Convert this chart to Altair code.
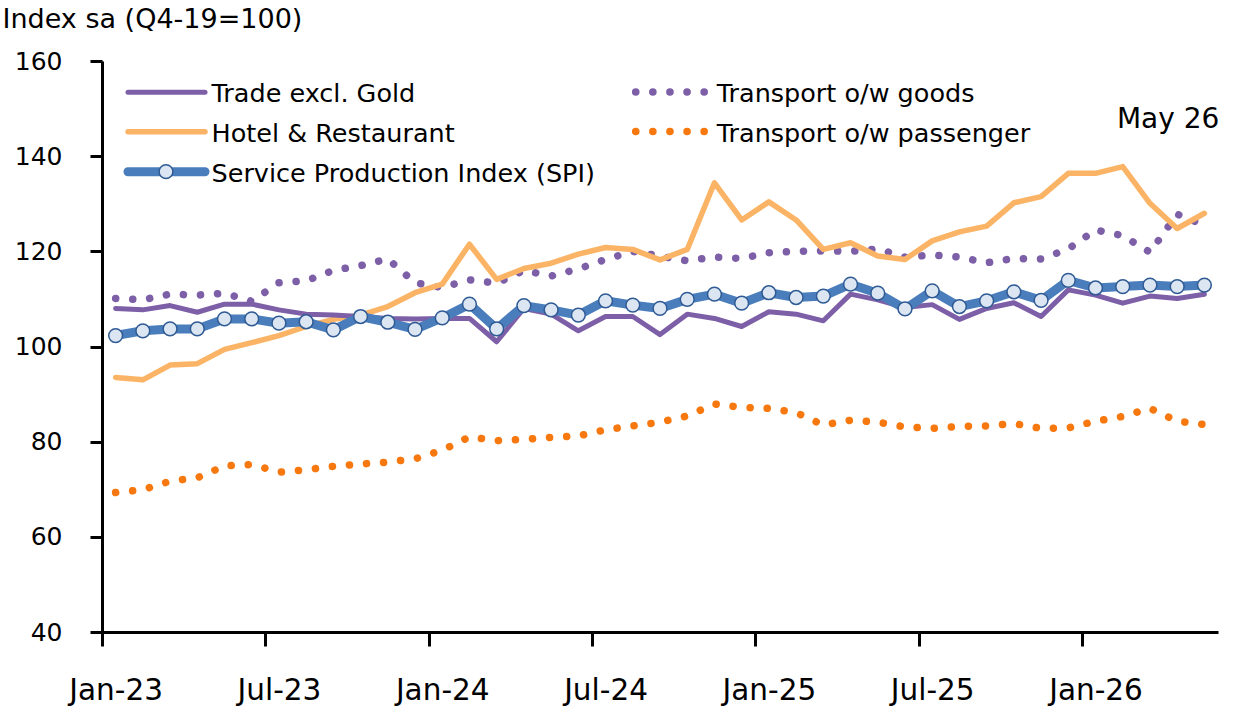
import json

import altair as alt
import pandas as pd

# Monthly index values, Jan-23 .. May-26 (seasonally adjusted, Q4-19 = 100)
MONTHS = pd.date_range("2023-01-01", periods=41, freq="MS").strftime("%b-%y").tolist()
TICK_LABELS = ["Jan-23", "Jul-23", "Jan-24", "Jul-24", "Jan-25", "Jul-25", "Jan-26"]

TRADE = [108.0, 107.7, 108.6, 107.2, 108.9, 108.9, 107.7, 106.8, 106.6, 106.3,
         105.9, 105.8, 105.9, 105.9, 101.0, 108.0, 106.8, 103.3, 106.3, 106.3,
         102.5, 106.8, 105.9, 104.2, 107.3, 106.8, 105.4, 111.0, 109.8, 108.2,
         108.8, 105.7, 108.0, 109.2, 106.3, 111.9, 110.8, 109.1, 110.6, 110.1, 111.0]
HOTEL = [93.5, 93.0, 96.1, 96.4, 99.4, 100.8, 102.3, 104.2, 105.7, 106.6,
         108.4, 111.3, 113.1, 121.5, 114.1, 116.4, 117.5, 119.4, 120.8, 120.4,
         118.2, 120.4, 134.4, 126.6, 130.4, 126.6, 120.4, 121.8, 119.0, 118.3,
         122.2, 124.1, 125.3, 130.2, 131.5, 136.4, 136.4, 137.8, 130.1, 124.8, 128.0]
SPI = [102.3, 103.3, 103.7, 103.7, 105.8, 105.8, 104.9, 105.2, 103.5, 106.3,
       105.1, 103.6, 106.0, 108.9, 103.7, 108.6, 107.7, 106.6, 109.6, 108.7,
       108.0, 109.9, 111.0, 109.1, 111.3, 110.3, 110.6, 113.1, 111.2, 107.9,
       111.7, 108.4, 109.6, 111.5, 109.7, 113.9, 112.3, 112.6, 112.9, 112.6, 112.9]
GOODS = [110.1, 109.8, 111.0, 110.8, 111.2, 109.5, 113.4, 113.8, 116.0, 117.0,
         118.4, 113.4, 112.4, 114.0, 113.3, 116.0, 114.8, 116.3, 118.3, 120.0,
         119.0, 118.0, 118.8, 118.5, 119.7, 120.0, 120.1, 120.0, 120.5, 118.8,
         119.2, 118.8, 117.6, 118.5, 118.4, 120.5, 124.5, 123.3, 119.8, 127.8, 125.5]
PASSENGER = [69.3, 69.9, 71.7, 72.4, 74.9, 75.2, 73.6, 74.1, 74.8, 75.3,
             75.7, 76.4, 78.2, 81.0, 80.2, 80.5, 80.9, 81.2, 82.5, 83.3,
             84.1, 85.4, 87.9, 87.2, 87.0, 86.1, 83.5, 84.5, 84.1, 83.1,
             82.8, 83.2, 83.3, 83.8, 82.8, 82.9, 84.3, 85.3, 87.0, 84.3, 83.6]

FONT = "DejaVu Sans"
W, H = 1116, 571          # plot area
LEFT, TOP = 102, 61       # plot origin inside the 1248x710 page

C_TRADE = "#7D5FA8"
C_HOTEL = "#FBB466"
C_SPI = "#4A7DBB"
C_SPI_EDGE = "#2F5A94"
C_SPI_FILL = "#DCE6F3"
C_GOODS = "#7D5FA8"
C_PASS = "#F7780F"
DOT_DASH = [0.1, 17]


def frame(values, name):
    return pd.DataFrame({"m": range(len(values)), "month": MONTHS,
                         "value": values, "series": name})


label_expr = json.dumps(TICK_LABELS).replace('"', "'") + "[round((datum.value + 0.5) / 6)]"

x_enc = alt.X(
    "m:Q",
    scale=alt.Scale(domain=[-0.5, len(MONTHS) - 0.5], nice=False, zero=False),
    axis=alt.Axis(
        values=[-0.5 + 6 * k for k in range(len(TICK_LABELS))],
        labelExpr=label_expr, labelOffset=W / len(MONTHS) / 2,
        labelFlush=False, labelOverlap=False,
        tickSize=14, tickWidth=3, tickColor="black",
        domainWidth=3, domainColor="black",
        labelFont=FONT, labelFontSize=29.5, labelColor="black",
        labelBaseline="alphabetic", labelPadding=53,
        grid=False, title=None,
    ),
)
y_enc = alt.Y(
    "value:Q",
    scale=alt.Scale(domain=[40, 160], nice=False, zero=False),
    axis=alt.Axis(
        values=list(range(40, 161, 20)),
        tickSize=12, tickWidth=3, tickColor="black",
        domainWidth=3, domainColor="black",
        labelFont=FONT, labelFontSize=25, labelColor="black", labelPadding=28,
        grid=False,
        title="Index sa (Q4-19=100)", titleAngle=0, titleAlign="left",
        titleBaseline="alphabetic", titleX=-LEFT + 2, titleY=27 - TOP,
        titleFont=FONT, titleFontSize=27, titleFontWeight="normal", titleColor="black",
    ),
)

goods = alt.Chart(frame(GOODS, "Transport o/w goods")).mark_line(
    color=C_GOODS, strokeWidth=7.5, strokeDash=DOT_DASH, strokeCap="round"
).encode(x=x_enc, y=y_enc)
passenger = alt.Chart(frame(PASSENGER, "Transport o/w passenger")).mark_line(
    color=C_PASS, strokeWidth=7.5, strokeDash=DOT_DASH, strokeCap="round"
).encode(x=x_enc, y=y_enc)
hotel = alt.Chart(frame(HOTEL, "Hotel & Restaurant")).mark_line(
    color=C_HOTEL, strokeWidth=5.5, strokeJoin="round", strokeCap="round"
).encode(x=x_enc, y=y_enc)
trade = alt.Chart(frame(TRADE, "Trade excl. Gold")).mark_line(
    color=C_TRADE, strokeWidth=5, strokeJoin="round", strokeCap="round"
).encode(x=x_enc, y=y_enc)
spi_df = frame(SPI, "Service Production Index (SPI)")
spi_line = alt.Chart(spi_df).mark_line(
    color=C_SPI, strokeWidth=9, strokeJoin="round", strokeCap="round"
).encode(x=x_enc, y=y_enc)
spi_pts = alt.Chart(spi_df).mark_point(
    shape="circle", filled=True, size=190, fill=C_SPI_FILL, fillOpacity=1,
    stroke=C_SPI_EDGE, strokeWidth=1.5, opacity=1
).encode(x=x_enc, y=y_enc)

# Legend, drawn in plot-area pixel coordinates
one = pd.DataFrame({"k": [0]})


def legend_entry(label, x0, x1, y_line, y_text, x_text, **line_style):
    rule = alt.Chart(one).mark_rule(**line_style).encode(
        x=alt.value(x0 - LEFT), x2=alt.value(x1 - LEFT), y=alt.value(y_line - TOP)
    )
    text = alt.Chart(one).mark_text(
        text=label, align="left", baseline="alphabetic", font=FONT,
        fontSize=25.5, color="black"
    ).encode(x=alt.value(x_text - LEFT), y=alt.value(y_text - TOP))
    return [rule, text]


legend_layers = []
legend_layers += legend_entry("Trade excl. Gold", 128, 205, 92.3, 102.3, 211.5,
                              color=C_TRADE, strokeWidth=5, strokeCap="round")
legend_layers += legend_entry("Hotel & Restaurant", 128, 205, 131.7, 141.7, 211.5,
                              color=C_HOTEL, strokeWidth=5.5, strokeCap="round")
legend_layers += legend_entry("Service Production Index (SPI)", 128, 205, 171.7, 181.7, 211.5,
                              color=C_SPI, strokeWidth=9, strokeCap="round")
legend_layers.append(
    alt.Chart(one).mark_point(
        shape="circle", filled=True, size=190, fill=C_SPI_FILL, fillOpacity=1,
        stroke=C_SPI_EDGE, strokeWidth=1.5, opacity=1
    ).encode(x=alt.value(166 - LEFT), y=alt.value(171.7 - TOP))
)
legend_layers += legend_entry("Transport o/w goods", 635.7, 704.5, 92, 102.3, 716.7,
                              color=C_GOODS, strokeWidth=7.5, strokeDash=DOT_DASH,
                              strokeCap="round")
legend_layers += legend_entry("Transport o/w passenger", 635.7, 704.5, 131.5, 141.7, 716.7,
                              color=C_PASS, strokeWidth=7.5, strokeDash=DOT_DASH,
                              strokeCap="round")

latest = alt.Chart(one).mark_text(
    text="May 26", align="right", baseline="alphabetic", font=FONT,
    fontSize=28, color="black"
).encode(x=alt.value(1219.3 - LEFT), y=alt.value(128.3 - TOP))

chart = alt.layer(
    goods, passenger, hotel, trade, spi_line, spi_pts, *legend_layers, latest
).properties(
    width=W, height=H,
    autosize=alt.AutoSizeParams(type="none"),
    padding={"left": LEFT, "top": TOP, "right": 1248 - LEFT - W, "bottom": 710 - TOP - H},
    background="white",
).configure_view(stroke="transparent")

chart.save("out.html", embed_options={"renderer": "svg", "actions": False})
